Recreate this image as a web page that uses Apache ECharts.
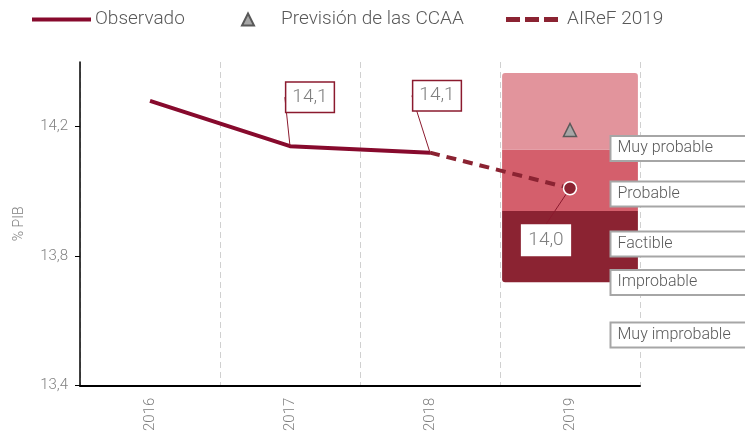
<!DOCTYPE html>
<html>
<head>
<meta charset="utf-8">
<script src="https://cdn.jsdelivr.net/npm/echarts@6/dist/echarts.min.js"></script>
<style>
  html, body { margin: 0; padding: 0; background: #fff; }
  #chart { width: 745px; height: 434px; }
</style>
</head>
<body>
<div id="chart"></div>
<script>
const chart = echarts.init(document.getElementById('chart'));

// datos
const years = ['2016', '2017', '2018', '2019'];
const observado = [14.28, 14.14, 14.12, null];
const airef = [null, null, 14.12, 14.01];
const prevision = [null, null, null, 14.19];
// bandas de probabilidad (2019): base, factible, probable, muy probable
const bandBase = 13.72;
const bandSteps = [0.22, 0.19, 0.236];
const bandColors = ['#8b2332', '#d45f6c', '#e2949c'];
const zoneNames = ['Muy probable', 'Probable', 'Factible', 'Improbable', 'Muy improbable'];
const zoneY = [14.133, 13.992, 13.838, 13.719, 13.557];
const yTicks = [13.4, 13.8, 14.2];

const fmt = v => v.toFixed(1).replace('.', ',');
const red = '#870a2d';
const font = 'Roboto';

// etiquetas de dato con línea guía
const labelBox = {
    show: true,
    position: 'inside',
    formatter: p => fmt(p.value),
    backgroundColor: '#fff',
    borderColor: '#8b1a2e',
    borderWidth: 1.5,
    padding: [6, 6, 4, 6],
    color: '#7f7f7f',
    fontSize: 19,
    fontFamily: font,
    fontWeight: 300
};

const obsData = observado.map((v, i) => ({
    value: v,
    symbolSize: 0,
    label: (i === 1 || i === 2) ? labelBox : { show: false }
}));
const airefData = airef.map((v, i) => {
    if (i === 3) {
        return {
            value: v,
            symbol: 'circle',
            symbolSize: 13,
            itemStyle: { color: '#8b2332', borderColor: '#fff', borderWidth: 1.5 },
            label: Object.assign({}, labelBox, { borderColor: '#fff' })
        };
    }
    return { value: v, symbolSize: 0, label: { show: false } };
});

const obsShift = { 1: [20, -49], 2: [7, -57] };

const legendText = { fontSize: 19, color: '#595959', fontWeight: 300 };

const option = {
    animation: false,
    textStyle: { fontFamily: font },
    legend: [
        {
            left: 32, top: 10, padding: 0,
            itemWidth: 59, itemHeight: 4,
            textStyle: Object.assign({ padding: [0, 0, 0, -1] }, legendText),
            data: [{ name: 'Observado', icon: 'rect', itemStyle: { color: red, borderWidth: 0 } }]
        },
        {
            left: 241, top: 10, padding: 0,
            itemWidth: 12, itemHeight: 12,
            textStyle: Object.assign({ padding: [0, 0, 0, 22] }, legendText),
            data: [{ name: 'Previsión de las CCAA', icon: 'triangle' }]
        },
        {
            left: 506, top: 10, padding: 0,
            itemWidth: 52, itemHeight: 5,
            textStyle: Object.assign({ padding: [0, 0, 0, 4] }, legendText),
            data: [{
                name: 'AIReF 2019',
                icon: 'path://M0,0h14v5h-14z M19,0h14v5h-14z M38,0h14v5h-14z',
                itemStyle: { color: '#8b2332', borderWidth: 0 }
            }]
        }
    ],
    grid: { left: 80, right: 105, top: 62, bottom: 46 },
    xAxis: {
        type: 'category',
        data: years,
        boundaryGap: true,
        axisLine: { lineStyle: { color: '#000', width: 2 } },
        axisTick: { show: false },
        axisLabel: { rotate: 90, margin: 12, color: '#7f7f7f', fontSize: 15, fontWeight: 300 },
        splitLine: { show: true, lineStyle: { color: '#d0d0d0', type: [6, 4], width: 1 } }
    },
    yAxis: {
        type: 'value',
        min: 13.4,
        max: 14.4,
        interval: 0.4,
        name: '% PIB',
        nameLocation: 'middle',
        nameRotate: 90,
        nameGap: 54,
        nameTextStyle: { color: '#7f7f7f', fontSize: 14, fontWeight: 300 },
        axisLine: { show: true, lineStyle: { color: '#000', width: 1.5 } },
        axisTick: { show: true, length: 5, customValues: yTicks, lineStyle: { color: '#000' } },
        axisLabel: { customValues: yTicks, formatter: fmt, color: '#7f7f7f', fontSize: 15, fontWeight: 300, margin: 12 },
        splitLine: { show: false }
    },
    series: [
        {
            name: 'base', type: 'bar', stack: 'banda', barWidth: '97%', silent: true,
            itemStyle: { color: 'transparent' },
            data: [null, null, null, bandBase]
        },
        ...bandSteps.map((s, i) => ({
            name: 'banda' + i, type: 'bar', stack: 'banda', barWidth: '97%', silent: true,
            itemStyle: {
                color: bandColors[i],
                borderRadius: i === 0 ? [0, 0, 3, 3] : (i === 2 ? [3, 3, 0, 0] : 0)
            },
            data: [null, null, null, s]
        })),
        {
            name: 'Observado', type: 'line', color: red, z: 5,
            showSymbol: true, symbol: 'circle',
            lineStyle: { color: red, width: 4 },
            data: obsData,
            labelLine: { show: true, lineStyle: { color: '#8b1a2e', width: 1 } },
            labelLayout: p => {
                const d = obsShift[p.dataIndex];
                return d ? { dx: d[0], dy: d[1] } : {};
            }
        },
        {
            name: 'AIReF 2019', type: 'line', color: '#8b2332', z: 6,
            showSymbol: true, symbol: 'circle',
            lineStyle: { color: '#8b2332', width: 4, type: [10, 7] },
            data: airefData,
            labelLine: { show: true, lineStyle: { color: '#8b1a2e', width: 1 } },
            labelLayout: p => (p.dataIndex === 3 ? { dx: -24, dy: 52 } : {})
        },
        {
            name: 'Previsión de las CCAA', type: 'scatter', z: 6,
            symbol: 'triangle', symbolSize: 13,
            itemStyle: { color: '#a6a6a6', borderColor: '#595959', borderWidth: 1.5, opacity: 1 },
            data: prevision
        },
        {
            name: 'zonas', type: 'scatter', z: 7, silent: true,
            symbolSize: 1,
            itemStyle: { color: 'rgba(0,0,0,0)', opacity: 1 },
            data: zoneNames.map((n, i) => ({ value: [3, zoneY[i]], name: n })),
            label: {
                show: true,
                position: 'right',
                distance: 41,
                formatter: p => p.name,
                width: 122,
                align: 'left',
                backgroundColor: '#fff',
                borderColor: '#a6a6a6',
                borderWidth: 2,
                padding: [4, 6, 3, 6],
                color: '#595959',
                fontSize: 16,
                fontWeight: 300
            }
        }
    ]
};

chart.setOption(option);
</script>
</body>
</html>
